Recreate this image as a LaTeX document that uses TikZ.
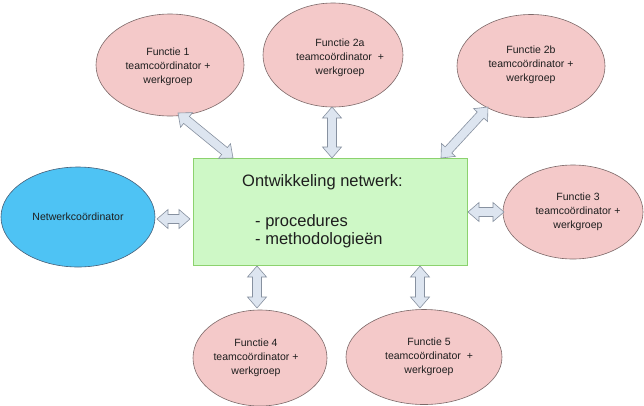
\documentclass[tikz,border=0pt]{standalone}
\usepackage{fontspec}
\setmainfont{Liberation Sans}
\usetikzlibrary{calc,shapes.geometric}
\definecolor{pinkfill}{RGB}{244,201,201}
\definecolor{pinkline}{RGB}{125,105,105}
\definecolor{bluefill}{RGB}{78,195,244}
\definecolor{blueline}{RGB}{70,95,120}
\definecolor{greenfill}{RGB}{206,248,198}
\definecolor{greenline}{RGB}{140,210,110}
\definecolor{arrowfill}{RGB}{221,229,240}
\definecolor{arrowline}{RGB}{135,145,160}
\definecolor{txt}{RGB}{30,30,30}
\begin{document}
\begin{tikzpicture}[x=1pt,y=-1pt,
  oval/.style={ellipse, draw=pinkline, fill=pinkfill, line width=0.6pt, inner sep=0pt},
  ftext/.style={align=center, text=txt, font=\fontsize{10.5}{13.8}\selectfont, inner sep=0pt},
  mtext/.style={align=left, text=txt, font=\fontsize{16.5}{18.5}\selectfont, inner sep=0pt, anchor=west},
  barrow/.style={draw=arrowline, fill=arrowfill, line width=0.6pt, line join=miter,
    to path={let \p1=(\tikztostart), \p2=(\tikztotarget), \n1={atan2(\y2-\y1,\x2-\x1)} in
      (\p1) -- ($(\p1)+(\n1:11pt)+(\n1+90:9.5pt)$) -- ($(\p1)+(\n1:11pt)+(\n1+90:4.5pt)$)
      -- ($(\p2)+(\n1+180:11pt)+(\n1+90:4.5pt)$) -- ($(\p2)+(\n1+180:11pt)+(\n1+90:9.5pt)$)
      -- (\p2)
      -- ($(\p2)+(\n1+180:11pt)+(\n1-90:9.5pt)$) -- ($(\p2)+(\n1+180:11pt)+(\n1-90:4.5pt)$)
      -- ($(\p1)+(\n1:11pt)+(\n1-90:4.5pt)$) -- ($(\p1)+(\n1:11pt)+(\n1-90:9.5pt)$) -- cycle}}
]
\useasboundingbox (0,0) rectangle (644,405);
\fill[white] (0,0) rectangle (644,405);

% central box
\node[draw=greenline, fill=greenfill, line width=0.8pt, minimum width=274pt, minimum height=107pt, inner sep=0pt] (box) at (330,211.5) {};
\node[mtext] (title) at (242,182) {Ontwikkeling netwerk:};
\node[mtext] (list) at (255,231) {- procedures\\- methodologieën};

% ellipses
\node[oval, minimum width=148pt, minimum height=102pt] (f1) at (170,65) {};
\node[ftext] (t1) at (168,67) {Functie 1\\teamcoördinator +\\werkgroep};

\node[oval, minimum width=140pt, minimum height=104pt] (f2a) at (333,55) {};
\node[ftext] (t2a) at (340,58) {Functie 2a\\teamcoördinator~~+\\werkgroep};

\node[oval, minimum width=148pt, minimum height=103pt] (f2b) at (531,66) {};
\node[ftext] (t2b) at (531,65) {Functie 2b\\teamcoördinator +\\werkgroep};

\node[oval, minimum width=140pt, minimum height=94pt] (f3) at (573,212) {};
\node[ftext] (t3) at (578,212) {Functie 3\\teamcoördinator +\\werkgroep};

\node[ellipse, draw=blueline, fill=bluefill, line width=0.6pt, inner sep=0pt, minimum width=154pt, minimum height=100pt] (nc) at (78,217) {};
\node[ftext] (tnc) at (78,217) {Netwerkcoördinator};

\node[oval, minimum width=134pt, minimum height=96pt] (f4) at (260,358) {};
\node[ftext] (t4) at (256,358) {Functie 4\\teamcoördinator +\\werkgroep};

\node[oval, minimum width=156pt, minimum height=95pt] (f5) at (424,357) {};
\node[ftext] (t5) at (429,357) {Functie 5\\teamcoördinator~~+\\werkgroep};

% arrow end points
\coordinate (a1s) at (178,113); \coordinate (a1e) at (233,158);
\coordinate (a2s) at (332,107); \coordinate (a2e) at (332,158);
\coordinate (a3s) at (488,107); \coordinate (a3e) at (441,158);
\coordinate (a4s) at (468,212); \coordinate (a4e) at (504,212);
\coordinate (a5s) at (157,219); \coordinate (a5e) at (190,219);
\coordinate (a6s) at (257,266); \coordinate (a6e) at (257,308);
\coordinate (a7s) at (420,266); \coordinate (a7e) at (420,308);

\path[barrow] (a1s) to (a1e);
\path[barrow] (a2s) to (a2e);
\path[barrow] (a3s) to (a3e);
\path[barrow] (a4s) to (a4e);
\path[barrow] (a5s) to (a5e);
\path[barrow] (a6s) to (a6e);
\path[barrow] (a7s) to (a7e);
\end{tikzpicture}
\end{document}
